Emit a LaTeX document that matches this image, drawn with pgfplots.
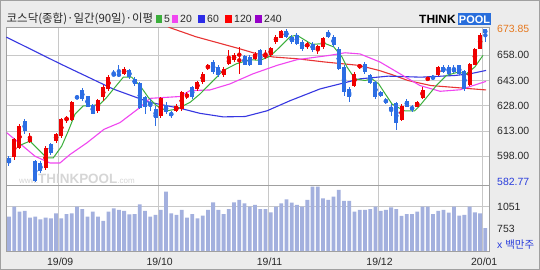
\documentclass[border=0pt]{standalone}
\usepackage{pgfplots}
\pgfplotsset{compat=1.18}
\usepackage{pgfplotstable}
\usepackage{fontspec}
\setmainfont{Liberation Sans}
\newfontfamily\kr{Noto Sans CJK KR}
\definecolor{bg}{RGB}{236,236,236}
\definecolor{gridc}{RGB}{200,200,200}
\definecolor{framec}{RGB}{160,160,160}
\definecolor{cup}{RGB}{238,0,0}
\definecolor{cdn}{RGB}{45,110,228}
\definecolor{ma5}{RGB}{60,175,60}
\definecolor{ma20}{RGB}{240,70,240}
\definecolor{ma60}{RGB}{55,55,225}
\definecolor{ma120}{RGB}{232,52,52}
\definecolor{ma240}{RGB}{150,0,200}
\definecolor{volc}{RGB}{163,176,222}
\definecolor{lbl}{RGB}{40,40,40}
\definecolor{corg}{RGB}{230,120,30}
\definecolor{cmin}{RGB}{40,60,220}
\definecolor{logob}{RGB}{40,110,220}

\pgfplotstableread{
i o h l c
1 597.6 609 596 608
2 603 617 602 616
4 606.4 612 606 609
7 591 604 590 603
9 607 612 606 611.4
10 610 621 609 620
11 619.5 622 618 621
12 619.5 631 619 630
17 625 632 624 631.4
18 633 640.6 631 639
19 638 646 637 645
22 647 651 646 650
29 622 633 621 632.4
32 625 629 624 628
33 626 637 625 636
34 633 636 632 635
36 638 643 637 642
37 642 648 641 647
38 650.4 653 649 652
41 646 651 645 650
42 653 661 652 656
43 655 659.5 654 658.4
44 658 663 647 658.7
47 656 660 655 659
49 657 661 656 658.4
50 658 663 657 662.4
51 666 670 665 669
52 668.4 673 668 672.4
57 663 666 662 665
59 661 664 659 663.6
60 663 669 662 668.4
66 639.6 648 639 647
67 651 653 650 652
75 619.5 629 619 628
78 627.5 631 627 630
79 632.4 639 632 637.5
80 643.6 645 643 644.4
82 646 651.5 645.5 651
88 640.4 653.5 640 653
89 652.4 662.5 652 662
90 662 671 661.5 670
}\up

\pgfplotstableread{
i o h l c
0 597 598 592 594
3 619 620 611 613
5 595 596 582.77 583
6 594 595 588 589
8 605 606 599 600
13 633.6 634 632 632.4
14 637.4 638.4 631 632
15 633.6 634 627 627.4
16 628.6 629 623 623.4
20 646.8 649 645.5 646.2
21 646.8 652 645 646
23 649 650 644 645
24 644 645 640 641
25 641.6 642 626 626.6
26 633 634 623 627
27 630 632 625 628.5
28 626 628 616 621
30 628.4 630 623 624.4
31 624 625 621 622
35 639 640 632 633
39 654 655 647 648
40 651 652 645 646
45 657.6 658 652 652.4
46 657 658 651.5 652.4
48 661 662 652 652.4
53 672.4 673.5 668 669
54 669 670 665 666
55 670 671 664 665
56 666 667 660.5 661.6
58 665 666 660 661
61 671.6 673 668.5 669
62 669 670 663 664
63 662 663 649 650
64 651 652 634 636
65 638 639 630 633
68 653 654 647 648
69 646.4 647 641 641.6
70 642 643 632 633
71 636 637 633 634
72 631.5 632.5 629 630
73 627 629 622 625.5
74 629.6 630.5 613.5 618
76 631 632 627 627.5
77 627 628.5 624.5 626
81 645 646 643.5 644.4
83 651 652 647.5 648
84 651 652.5 646.5 647
85 650.5 652 647.5 648
86 652 652.5 646 647
87 648.4 649 637 638
91 673.5 673.85 666 671
}\dn

\pgfplotstableread{
i v
0 917
1 1051
2 984
3 994
4 904
5 917
6 883
7 904
8 896
9 963
10 896
11 953
12 963
13 1051
14 1020
15 917
16 984
17 917
18 860
19 984
20 1030
21 1007
22 994
23 949
24 953
25 1083
26 994
27 917
28 940
29 1007
30 1251
31 963
32 940
33 1007
34 904
35 953
36 896
37 931
38 1007
39 1110
40 1007
41 953
42 1020
43 1110
44 1141
45 1096
46 1051
47 1074
48 1020
49 1020
50 976
51 1051
52 1096
53 1150
54 1104
55 1074
56 1051
57 1141
58 1318
59 1318
60 1163
61 1141
62 1185
63 1274
64 1127
65 1127
66 984
67 1007
68 1007
69 1020
70 1051
71 994
72 1007
73 1043
74 1020
75 927
76 953
77 953
78 984
79 1051
80 1051
81 953
82 994
83 1007
84 971
85 1051
86 931
87 940
88 1051
89 976
90 963
91 763
}\vol

\begin{document}
\begin{tikzpicture}
\useasboundingbox (0,0) rectangle (540bp,270bp);
\fill[bg] (0,0) rectangle (540bp,270bp);
\draw[framec, line width=1bp] (0.5bp,0.5bp) rectangle (539.5bp,269.5bp);

% title and legend
\node[anchor=west, inner sep=0pt, text=lbl] at (6.5bp,251bp) {\kr\fontsize{11.5}{13}\selectfont 코스닥(종합)·일간(90일)·이평};
\fill[ma5] (155.7bp,247bp) rectangle (162.3bp,255bp);
\node[anchor=west, inner sep=0pt, text=lbl] at (164bp,251bp) {\fontsize{10.5}{12}\selectfont 5};
\fill[ma20] (171.7bp,247bp) rectangle (178.3bp,255bp);
\node[anchor=west, inner sep=0pt, text=lbl] at (180bp,251bp) {\fontsize{10.5}{12}\selectfont 20};
\fill[ma60!80!blue] (198bp,247bp) rectangle (205bp,255bp);
\node[anchor=west, inner sep=0pt, text=lbl] at (207bp,251bp) {\fontsize{10.5}{12}\selectfont 60};
\fill[red] (225bp,247bp) rectangle (231.7bp,255bp);
\node[anchor=west, inner sep=0pt, text=lbl] at (234bp,251bp) {\fontsize{10.5}{12}\selectfont 120};
\fill[ma240] (255bp,247bp) rectangle (261.7bp,255bp);
\node[anchor=west, inner sep=0pt, text=lbl] at (264bp,251bp) {\fontsize{10.5}{12}\selectfont 240};

% logo
\node[anchor=west, inner sep=0pt] at (419bp,251bp) {\fontsize{12}{13}\selectfont\bfseries THINK};
\fill[logob] (458bp,245bp) rectangle (491bp,256.5bp);
\node[anchor=center, inner sep=0pt, text=white] at (474.5bp,250.7bp) {\fontsize{11}{12}\selectfont\bfseries POOL};

% price panel
\begin{axis}[
  at={(6bp,84.5bp)}, anchor=south west,
  scale only axis, width=483bp, height=157.8bp,
  xmin=-0.57, xmax=91.7, ymin=580.6, ymax=674.4,
  axis background/.style={fill=white},
  axis line style={framec, line width=1bp},
  xtick={9.5,28.5,49.5,70.5,90.5}, xticklabels={},
  ytick={598,613,628,643,658},
  yticklabels={598.00,613.00,628.00,643.00,658.00},
  extra y ticks={673.85,582.77},
  extra y tick labels={\textcolor{corg}{673.85},\textcolor{cmin}{582.77}},
  extra y tick style={grid=none},
  yticklabel pos=right,
  yticklabel style={anchor=west, inner sep=0pt, xshift=8bp, font=\fontsize{10.5}{12}\selectfont, text=lbl},
  major tick length=0pt,
  grid=major, grid style={gridc, line width=0.8bp},
]
\node[anchor=west, inner sep=0pt, text=black!16] at (axis cs:1.9,584.6) {\fontsize{8}{9}\selectfont www.\fontsize{13.5}{14}\selectfont\bfseries THINKPOOL\fontsize{8}{9}\selectfont\mdseries .com};
% moving averages
\addplot[ma120, line width=1.1bp] coordinates {(29.5,676.5) (30.76,674.4) (35.73,669) (43.94,662) (47.19,659) (50.44,657) (54.83,656) (60.37,654) (66.87,652) (70.69,649) (73.17,646.5) (76.23,643) (80.63,640) (87.12,638.4) (91.14,637.4)};
\addplot[ma60, line width=1.1bp] coordinates {(-0.5,668.8) (9.74,653) (19.87,638) (26.94,630) (32.67,626.5) (36.49,623.5) (40.89,621.4) (45.09,621.6) (49.29,625) (53.69,631) (59.42,638) (67.06,644) (72.41,645.6) (78.72,645) (85.21,646) (88.08,647) (91.14,649)};
\addplot[ma20, line width=1.1bp] coordinates {(-0.44,612) (2.10,605.5) (4.97,598) (7.83,594) (9.74,594) (11.65,599) (14.90,606) (18.15,614) (21.21,618) (25.03,627) (26.94,632.4) (32.67,633.5) (34.58,637) (38.40,637.4) (42.22,641) (46.62,647) (51.20,652) (55.03,655.4) (61.34,658) (64.19,659.5) (67.06,658.8) (70.88,654) (74.70,647) (78.52,640) (82.35,636.6) (86.17,637.5) (88.65,640) (91.14,642.5)};
\addplot[ma5, line width=1bp] coordinates {(1.72,604) (4.01,607) (5.29,603) (7.20,597) (8.46,597) (10.07,604) (11.33,613) (12.61,623) (14.20,628) (15.80,628) (17.39,629) (18.67,633) (20.25,639) (21.84,645) (23.44,645) (25.03,640) (26.61,633) (28.22,628) (30.13,625) (32.04,626) (34.58,630) (36.49,635) (38.40,641) (40.94,649) (43.50,653) (46.04,655.4) (47.96,655) (49.87,657.4) (51.78,663) (53.69,669) (54.97,670) (56.55,667) (57.89,664.5) (60.37,665) (62.04,663) (63.62,657) (64.58,651) (66.11,644) (68.02,643) (69.35,644) (70.63,641) (71.89,635) (73.18,629) (74.32,627) (75.60,625) (77.51,625) (78.47,628) (80.05,634) (81.64,640) (83.55,646) (85.79,648) (87.37,647) (88.98,651) (90.56,658)};
% candles: wicks
\addplot[cup, draw=cup, only marks, mark=none, error bars/.cd, y dir=both, y explicit, error mark=none, error bar style={draw=cup, line width=1bp}]
  table[x=i, y expr={(\thisrow{h}+\thisrow{l})/2}, y error expr={(\thisrow{h}-\thisrow{l})/2}] {\up};
\addplot[cdn, draw=cdn, only marks, mark=none, error bars/.cd, y dir=both, y explicit, error mark=none, error bar style={draw=cdn, line width=1bp}]
  table[x=i, y expr={(\thisrow{h}+\thisrow{l})/2}, y error expr={(\thisrow{h}-\thisrow{l})/2}] {\dn};
% candles: bodies
\addplot[cup, draw=cup, only marks, mark=none, error bars/.cd, y dir=both, y explicit, error mark=none, error bar style={draw=cup, line width=4bp}]
  table[x=i, y expr={(\thisrow{o}+\thisrow{c})/2}, y error expr={abs(\thisrow{c}-\thisrow{o})/2}] {\up};
\addplot[cdn, draw=cdn, only marks, mark=none, error bars/.cd, y dir=both, y explicit, error mark=none, error bar style={draw=cdn, line width=4bp}]
  table[x=i, y expr={(\thisrow{o}+\thisrow{c})/2}, y error expr={abs(\thisrow{c}-\thisrow{o})/2}] {\dn};
\end{axis}

% volume panel
\begin{axis}[
  at={(6bp,19bp)}, anchor=south west,
  scale only axis, width=483bp, height=65.5bp,
  xmin=-0.57, xmax=91.7, ymin=459, ymax=1334,
  axis background/.style={fill=white},
  axis line style={framec, line width=1bp},
  xtick={9.5,28.5,49.5,70.5,90.5},
  xticklabels={19/09,19/10,19/11,19/12,20/01},
  xticklabel style={anchor=center, inner sep=0pt, yshift=-10.5bp, xshift=1.5bp, font=\fontsize{10.5}{12}\selectfont, text=lbl},
  ytick={1051}, yticklabels={1051},
  extra y ticks={753}, extra y tick labels={753},
  extra y tick style={grid=none},
  yticklabel pos=right,
  yticklabel style={anchor=west, inner sep=0pt, xshift=8bp, font=\fontsize{10.5}{12}\selectfont, text=lbl},
  major tick length=0pt,
  grid=major, grid style={gridc, line width=0.8bp},
]
\addplot[ybar, bar width=3.8bp, fill=volc, draw=none] table[x=i, y=v] {\vol};
\end{axis}

\node[anchor=west, inner sep=0pt, text=cmin] at (497bp,25bp) {\fontsize{10.5}{12}\selectfont x \kr 백만주};
\end{tikzpicture}
\end{document}
